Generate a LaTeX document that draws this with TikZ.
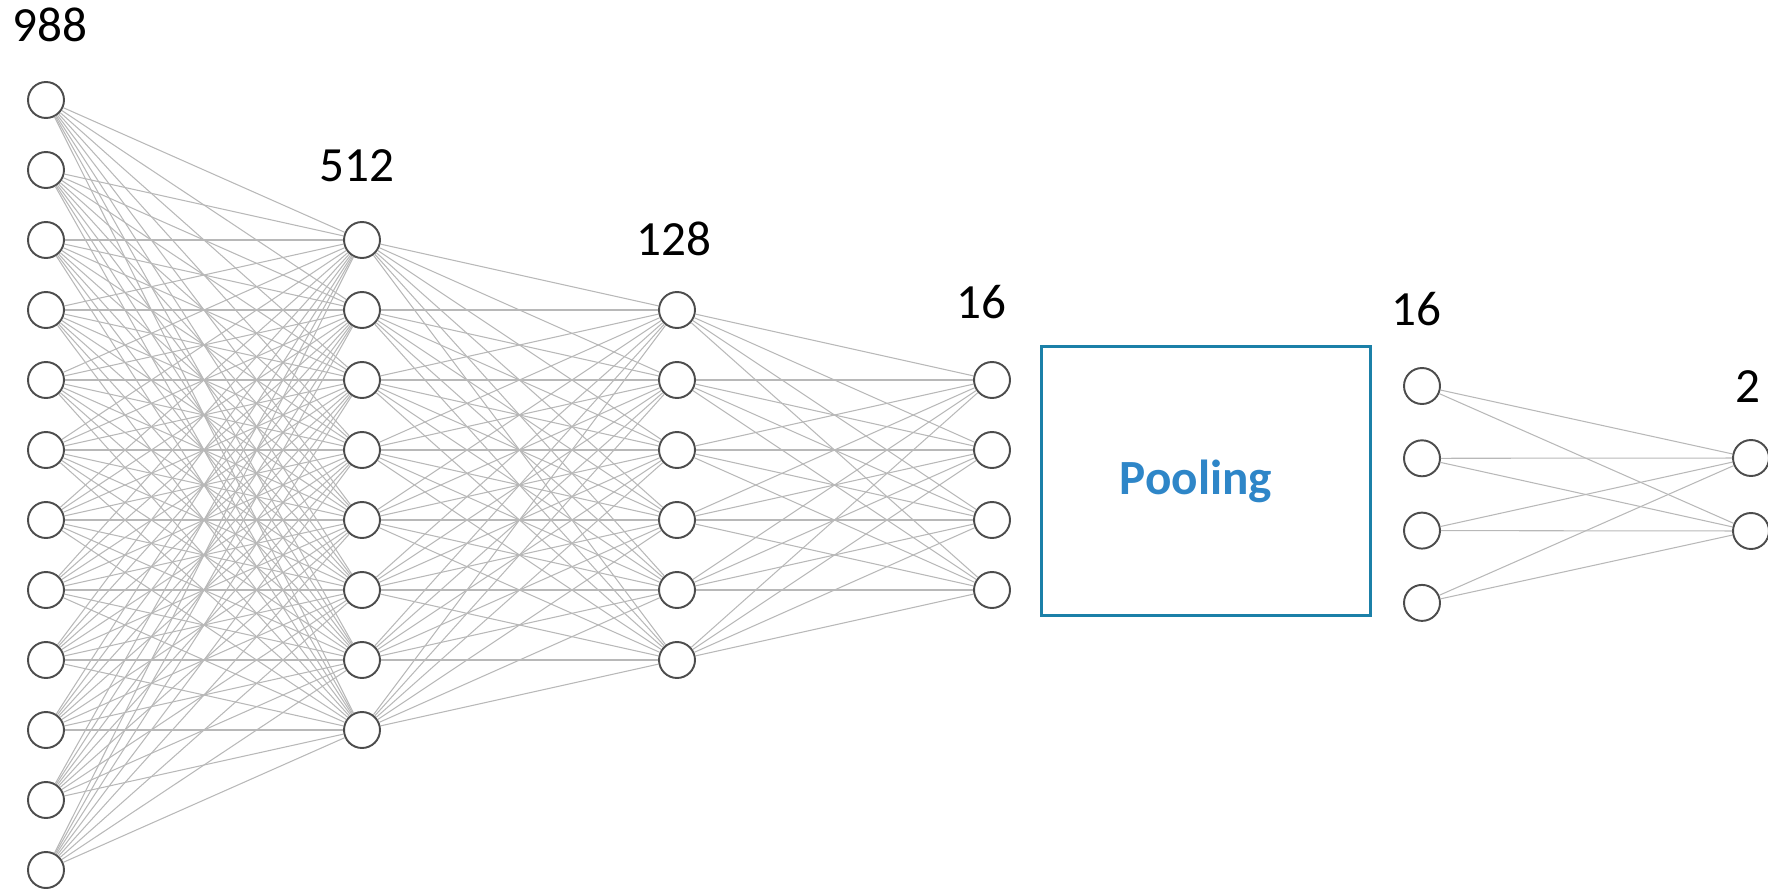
\documentclass[tikz,border=0pt]{standalone}
\usepackage{fontspec}
\setmainfont{Carlito}
\usepackage{xcolor}
\usepackage{tikz}
\definecolor{poolblue}{HTML}{2E86C8}
\definecolor{poolframe}{HTML}{1B80A8}

\begin{document}
\begin{tikzpicture}
  [x=0.02cm,y=-0.02cm,
   neuron/.style={circle,draw=black!70,line width=1.1pt,fill=white,minimum size=0.72cm,inner sep=0pt},
   link/.style={draw=black!28,line width=0.6pt},
   size/.style={font=\fontsize{28}{34}\selectfont,inner sep=0pt},
   poolbox/.style={draw=poolframe,line width=1.7pt,minimum width=6.58cm,minimum height=5.4cm,
     font=\fontsize{28}{34}\selectfont\bfseries,text=poolblue}] % one style per kind of thing
  \useasboundingbox (0,0) rectangle (1768,892);

  % the six layers
  \foreach \i in {1,...,12} \node[neuron] (a\i) at (46,{100+70*(\i-1)}) {};
  \foreach \i in {1,...,8}  \node[neuron] (b\i) at (362,{240+70*(\i-1)}) {};
  \foreach \i in {1,...,6}  \node[neuron] (c\i) at (677,{310+70*(\i-1)}) {};
  \foreach \i in {1,...,4}  \node[neuron] (d\i) at (992,{380+70*(\i-1)}) {};
  \foreach \i in {1,...,4}  \node[neuron] (e\i) at (1422,{386+72.3*(\i-1)}) {};
  \node[neuron] (f1) at (1751,458) {};
  \node[neuron] (f2) at (1751,531) {};

  % layer sizes
  \node[size] (sa) at (50,25)    {988};
  \node[size] (sb) at (357,166)  {512};
  \node[size] (sc) at (674,239)  {128};
  \node[size] (sd) at (981,302)  {16};
  \node[size] (se) at (1416,309) {16};
  \node[size] (sf) at (1748,387) {2};

  \node[poolbox] (pool) at (1206,481) {Pooling\rule{0.4cm}{0pt}};

  % full connections
  \foreach \i in {1,...,12} \foreach \j in {1,...,8} \draw[link] (a\i) -- (b\j);
  \foreach \i in {1,...,8}  \foreach \j in {1,...,6} \draw[link] (b\i) -- (c\j);
  \foreach \i in {1,...,6}  \foreach \j in {1,...,4} \draw[link] (c\i) -- (d\j);
  \foreach \i in {1,...,4}  \foreach \j in {1,2}     \draw[link] (e\i) -- (f\j);

\end{tikzpicture}
\end{document}
